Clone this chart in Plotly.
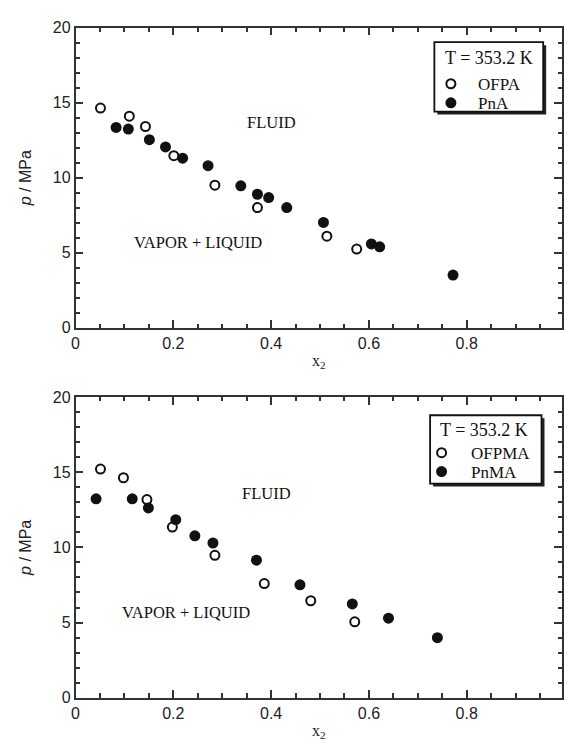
import plotly.graph_objects as go

# Mole fraction x2 and pressure p (MPa) at T = 353.2 K
ofpa_x = [0.051, 0.110, 0.143, 0.201, 0.285, 0.372, 0.514, 0.575]
ofpa_p = [14.64, 14.10, 13.41, 11.47, 9.50, 8.01, 6.11, 5.25]
pna_x = [0.083, 0.108, 0.151, 0.184, 0.219, 0.271, 0.338, 0.372, 0.395, 0.432, 0.507, 0.605, 0.622, 0.772]
pna_p = [13.35, 13.24, 12.53, 12.05, 11.30, 10.80, 9.46, 8.90, 8.68, 8.01, 7.02, 5.59, 5.40, 3.52]

ofpma_x = [0.051, 0.098, 0.146, 0.198, 0.285, 0.386, 0.481, 0.571]
ofpma_p = [15.21, 14.63, 13.18, 11.35, 9.47, 7.59, 6.45, 5.05]
pnma_x = [0.042, 0.116, 0.149, 0.205, 0.244, 0.281, 0.370, 0.459, 0.566, 0.640, 0.740]
pnma_p = [13.23, 13.23, 12.62, 11.84, 10.77, 10.29, 9.15, 7.51, 6.24, 5.29, 3.99]

x_ticks = [0, 0.2, 0.4, 0.6, 0.8]
y_ticks = [0, 5, 10, 15, 20]
legend_title = "T = 353.2 K"
series_names = [("OFPA", "PnA"), ("OFPMA", "PnMA")]

W, H = 564, 751
SERIF = "Liberation Serif, Times New Roman, serif"
SANS = "Liberation Sans, Arial, sans-serif"
INK = "#111111"
AXIS = "#333333"

fig = go.Figure()

open_marker = dict(symbol="circle", size=9, color="white", line=dict(color=INK, width=2))
filled_marker = dict(symbol="circle", size=11, color=INK, line=dict(color=INK, width=0))

fig.add_trace(go.Scatter(x=ofpa_x, y=ofpa_p, mode="markers", name=series_names[0][0],
                         marker=open_marker, xaxis="x", yaxis="y"))
fig.add_trace(go.Scatter(x=pna_x, y=pna_p, mode="markers", name=series_names[0][1],
                         marker=filled_marker, xaxis="x", yaxis="y"))
fig.add_trace(go.Scatter(x=ofpma_x, y=ofpma_p, mode="markers", name=series_names[1][0],
                         marker=open_marker, xaxis="x2", yaxis="y2"))
fig.add_trace(go.Scatter(x=pnma_x, y=pnma_p, mode="markers", name=series_names[1][1],
                         marker=filled_marker, xaxis="x2", yaxis="y2"))

x_left = 72.3 / W
x_max = (W - 72.3) / 494.25


def px_x(v):
    return v / W


def px_y(v):
    return 1 - v / H


def xaxis_cfg(anchor):
    return dict(
        domain=[x_left, 1], range=[0, x_max], anchor=anchor,
        tickvals=x_ticks, ticktext=["0", "0.2", "0.4", "0.6", "0.8"],
        ticks="inside", ticklen=8, tickwidth=1.5, tickcolor=AXIS,
        minor=dict(dtick=0.05, tick0=0, ticks="inside", ticklen=4.5, tickwidth=1.5, tickcolor=AXIS),
        showline=True, linecolor=AXIS, linewidth=1.5, mirror="ticks",
        showgrid=False, zeroline=False,
        tickfont=dict(family=SANS, size=16, color="#222"),
        title=dict(text="x<sub>2</sub>", font=dict(family=SERIF, size=16, color="#222"), standoff=4),
    )


def yaxis_cfg(anchor, dom):
    return dict(
        domain=dom, range=[0, 20], anchor=anchor,
        tickvals=y_ticks,
        ticks="inside", ticklen=8, tickwidth=1.5, tickcolor=AXIS,
        minor=dict(dtick=1, tick0=0, ticks="inside", ticklen=4.5, tickwidth=1.5, tickcolor=AXIS),
        showline=True, linecolor=AXIS, linewidth=1.5, mirror="ticks",
        showgrid=False, zeroline=False,
        tickfont=dict(family=SANS, size=16, color="#222"),
        title=dict(text="<i>p</i> / MPa", font=dict(family=SANS, size=16, color="#222"), standoff=17),
    )


top_dom = [1 - 327.3 / H, 1 - 20 / H]
bot_dom = [1 - 705.7 / H, 1 - 398 / H]

fig.update_layout(
    width=W, height=H,
    margin=dict(l=0, r=0, t=0, b=0),
    paper_bgcolor="white", plot_bgcolor="white",
    xaxis=xaxis_cfg("y"), yaxis=yaxis_cfg("x", top_dom),
    xaxis2=xaxis_cfg("y2"), yaxis2=yaxis_cfg("x2", bot_dom),
    showlegend=False,
)

# Boxed key with drop shadow for each panel (pixel geometry)
keys = [
    dict(box=(435, 35, 545, 106), title=(490, 51.5), sym_x=451.7, rows=(77.5, 97), text_x=478,
         names=series_names[0]),
    dict(box=(430.7, 416.7, 543.3, 486.7), title=(485, 431.5), sym_x=442.3, rows=(455, 474.3), text_x=470.7,
         names=series_names[1]),
]
for k in keys:
    bx0, by0, bx1, by1 = k["box"]
    fig.add_shape(type="rect", xref="paper", yref="paper",
                  x0=px_x(bx0 + 3), x1=px_x(bx1 + 3), y0=px_y(by1 + 3), y1=px_y(by0 + 3),
                  fillcolor="#222", line=dict(width=0), layer="above")
    fig.add_shape(type="rect", xref="paper", yref="paper",
                  x0=px_x(bx0), x1=px_x(bx1), y0=px_y(by1), y1=px_y(by0),
                  fillcolor="white", line=dict(color=INK, width=1.8), layer="above")
    fig.add_annotation(x=px_x(k["title"][0]), y=px_y(k["title"][1]), xref="paper", yref="paper",
                       text=legend_title, showarrow=False, xanchor="center", yanchor="middle",
                       font=dict(family=SERIF, size=18, color="#111"))
    for ry, name, filled in zip(k["rows"], k["names"], (False, True)):
        radius = 5.5 if filled else 4.5
        fig.add_shape(type="circle", xref="paper", yref="paper",
                      xsizemode="pixel", ysizemode="pixel",
                      xanchor=px_x(k["sym_x"]), yanchor=px_y(ry),
                      x0=-radius, x1=radius, y0=-radius, y1=radius,
                      fillcolor=INK if filled else "white",
                      line=dict(color=INK, width=0 if filled else 2), layer="above")
        fig.add_annotation(x=px_x(k["text_x"]), y=px_y(ry), xref="paper", yref="paper",
                           text=name, showarrow=False, xanchor="left", yanchor="middle",
                           height=16, valign="middle", borderpad=0,
                           font=dict(family=SERIF, size=17, color="#111"))

# Region labels
region_font = dict(family=SERIF, size=16.5, color="#111")
for xr, yr, fx, fy, vx, vy in [("x", "y", 0.401, 13.67, 0.250, 5.68),
                               ("x2", "y2", 0.391, 13.59, 0.226, 5.70)]:
    fig.add_annotation(x=fx, y=fy, xref=xr, yref=yr, text="FLUID",
                       showarrow=False, font=region_font)
    fig.add_annotation(x=vx, y=vy, xref=xr, yref=yr, text="VAPOR + LIQUID",
                       showarrow=False, font=region_font)

fig.write_html("out.html")
